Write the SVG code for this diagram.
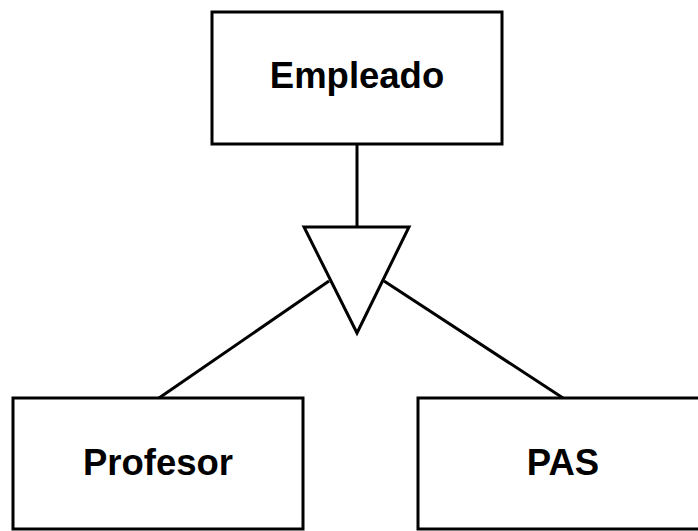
<svg xmlns="http://www.w3.org/2000/svg" width="698" height="531" viewBox="0 0 698 531">
<style>
.box{fill:#fff;stroke:#000;stroke-width:3}
.lbl{font-family:"Liberation Sans",Arial,sans-serif;font-weight:bold;font-size:36.5px;text-anchor:middle;fill:#000}
.ln{stroke:#000;stroke-width:3;fill:none}
</style>
<rect width="698" height="531" fill="#fff"/>
<g id="connectors">
<line class="ln" x1="357" y1="144" x2="357" y2="227"/>
<line class="ln" x1="329" y1="281" x2="159" y2="398"/>
<line class="ln" x1="384" y1="281" x2="563" y2="398"/>
</g>
<g id="isa">
<polygon class="box" points="304,227 409,227 357,333" stroke-linejoin="miter"/>
</g>
<g id="empleado">
<rect class="box" x="212" y="12" width="290" height="132"/>
<text class="lbl" x="357" y="88">Empleado</text>
</g>
<g id="profesor">
<rect class="box" x="13" y="398" width="290" height="131"/>
<text class="lbl" x="158" y="475">Profesor</text>
</g>
<g id="pas">
<rect class="box" x="418" y="398" width="290" height="131"/>
<text class="lbl" x="563" y="475">PAS</text>
</g>
</svg>
